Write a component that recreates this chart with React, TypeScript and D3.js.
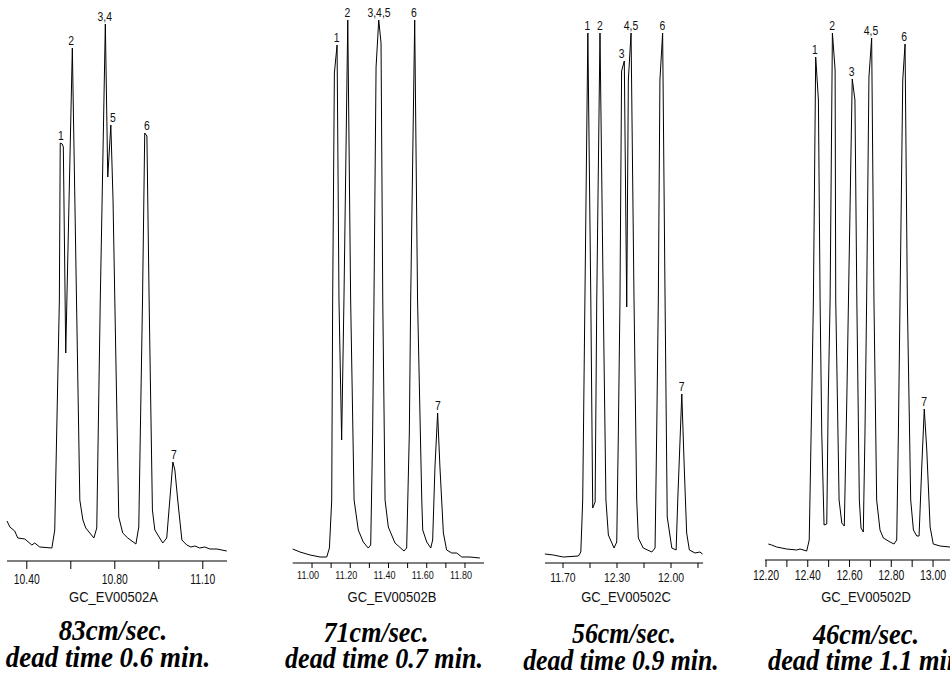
import React from "react";
import * as d3 from "d3";

// ---------- DATA ----------
const sampleIds = ["GC_EV00502A", "GC_EV00502B", "GC_EV00502C", "GC_EV00502D"];
const linearVelocities = ["83cm/sec.", "71cm/sec.", "56cm/sec.", "46cm/sec."];
const deadTimes = ["dead time 0.6 min.", "dead time 0.7 min.", "dead time 0.9 min.", "dead time 1.1 min."];

// Chromatogram A (retention time, min / detector signal)
const timesA = [10.310, 10.323, 10.345, 10.359, 10.391, 10.423, 10.436, 10.459, 10.514, 10.527, 10.548, 10.552, 10.561, 10.566, 10.577, 10.607, 10.641, 10.655, 10.668, 10.705, 10.718, 10.734, 10.757, 10.768, 10.782, 10.792, 10.800, 10.818, 10.836, 10.859, 10.896, 10.909, 10.926, 10.936, 10.946, 10.956, 10.971, 10.982, 11.018, 11.036, 11.050, 11.064, 11.073, 11.086, 11.105, 11.127, 11.146, 11.164, 11.186, 11.209, 11.232, 11.264, 11.309];
const signalA = [41, 35, 31, 24, 23, 17, 19, 15, 14, 32, 262, 419, 418, 415, 209, 514, 62, 42, 34, 24, 34, 262, 538, 385, 437, 362, 262, 45, 29, 24, 18, 35, 262, 429, 426, 262, 52, 32, 19, 24, 62, 100, 92, 62, 22, 17, 15, 16, 14, 15, 13, 13, 11];

// Chromatogram B
const timesB = [10.899, 10.937, 10.990, 11.042, 11.077, 11.091, 11.103, 11.108, 11.117, 11.131, 11.141, 11.155, 11.167, 11.187, 11.202, 11.220, 11.242, 11.268, 11.294, 11.307, 11.317, 11.324, 11.335, 11.349, 11.361, 11.370, 11.382, 11.399, 11.434, 11.481, 11.495, 11.509, 11.516, 11.537, 11.552, 11.574, 11.579, 11.600, 11.621, 11.631, 11.643, 11.657, 11.669, 11.687, 11.704, 11.731, 11.757, 11.783, 11.826, 11.878];
const signalB = [14, 11, 8, 6, 6, 15, 63, 263, 490, 518, 263, 123, 263, 543, 263, 63, 33, 21, 15, 18, 130, 263, 496, 543, 520, 263, 63, 36, 20, 12, 15, 130, 263, 543, 263, 63, 33, 21, 15, 23, 96, 150, 96, 30, 13, 10, 10, 6, 6, 5];

// Chromatogram C
const timesC = [11.633, 11.664, 11.701, 11.757, 11.766, 11.773, 11.792, 11.803, 11.810, 11.819, 11.825, 11.837, 11.849, 11.859, 11.868, 11.889, 11.899, 11.905, 11.911, 11.917, 11.927, 11.936, 11.942, 11.952, 11.963, 11.973, 11.979, 11.997, 12.029, 12.041, 12.047, 12.053, 12.059, 12.069, 12.078, 12.086, 12.103, 12.119, 12.125, 12.140, 12.149, 12.158, 12.168, 12.189, 12.207, 12.217];
const signalC = [9, 8, 6, 7, 11, 63, 530, 263, 55, 61, 263, 530, 263, 63, 28, 15, 21, 130, 263, 492, 502, 256, 483, 530, 263, 63, 25, 15, 11, 15, 130, 263, 483, 530, 263, 46, 15, 13, 63, 169, 96, 30, 13, 10, 11, 9];

// Chromatogram D
const timesD = [12.211, 12.227, 12.251, 12.299, 12.347, 12.363, 12.395, 12.407, 12.419, 12.427, 12.438, 12.451, 12.459, 12.467, 12.478, 12.491, 12.498, 12.507, 12.518, 12.531, 12.534, 12.550, 12.563, 12.575, 12.587, 12.595, 12.613, 12.626, 12.635, 12.647, 12.655, 12.666, 12.674, 12.682, 12.693, 12.706, 12.717, 12.730, 12.746, 12.762, 12.794, 12.813, 12.826, 12.834, 12.842, 12.855, 12.866, 12.877, 12.893, 12.906, 12.922, 12.933, 12.946, 12.958, 12.970, 12.986, 13.001, 13.034, 13.081, 13.130];
const signalD = [15, 14, 12, 10, 9, 10, 8, 19, 159, 259, 502, 459, 259, 126, 34, 35, 159, 259, 526, 489, 259, 59, 36, 33, 159, 259, 480, 459, 259, 59, 31, 27, 126, 259, 482, 521, 259, 59, 29, 21, 17, 15, 19, 126, 259, 479, 515, 259, 59, 29, 23, 23, 92, 150, 109, 32, 15, 13, 12, 11];

// Axis ticks (values) and their printed labels
const ticksA = [10.4, 10.6, 10.8, 11.0, 11.2];
const tickLabelsA = ["10.40", "", "10.80", "", "11.10"];
const ticksB = [11.0, 11.1, 11.2, 11.3, 11.4, 11.5, 11.6, 11.7, 11.8];
const tickLabelsB = ["11.00", "", "11.20", "", "11.40", "", "11.60", "", "11.80"];
const ticksC = [11.7, 11.8, 11.9, 12.0, 12.1, 12.2];
const tickLabelsC = ["11.70", "", "12.30", "", "12.00", ""];
const ticksD = [12.2, 12.3, 12.4, 12.5, 12.6, 12.7, 12.8, 12.9, 13.0, 13.1];
const tickLabelsD = ["12.20", "", "12.40", "", "12.60", "", "12.80", "", "13.00", ""];

// Peak annotations
const peakNamesA = ["1", "2", "3,4", "5", "6", "7"];
const peakTimesA = [10.5545, 10.6014, 10.7545, 10.7909, 10.9455, 11.0682];
const peakNamesB = ["1", "2", "3,4,5", "6", "7"];
const peakTimesB = [11.1292, 11.1846, 11.3503, 11.5333, 11.6578];
const peakNamesC = ["1", "2", "3", "4,5", "6", "7"];
const peakTimesC = [11.790, 11.837, 11.9174, 11.9519, 12.0678, 12.1396];
const peakNamesD = ["1", "2", "3", "4,5", "6", "7"];
const peakTimesD = [12.4347, 12.5162, 12.6105, 12.703, 12.8611, 12.9569];

// ---------- LAYOUT ----------
const panels = [
  { times: timesA, signal: signalA, ticks: ticksA, tickLabels: tickLabelsA, peakNames: peakNamesA, peakTimes: peakTimesA,
    domain: [10.31, 11.31], range: [7, 227], axisX: [7, 227], base: 562, axisY: 561, tickLen: 8, tickFont: 14, tickSx: 0.74, tickDx: 0, tickBase: 584,
    idX: 113.5, speedX: 113, speedY: 640, deadX: 108, deadY: 667, bigFont: 29, bigSx: 0.93 },
  { times: timesB, signal: signalB, ticks: ticksB, tickLabels: tickLabelsB, peakNames: peakNamesB, peakTimes: peakTimesB,
    domain: [10.9, 11.9], range: [292.9, 484.1], axisX: [292.7, 484], base: 563, axisY: 563, tickLen: 5, tickFont: 11, tickSx: 0.82, tickDx: -4, tickBase: 579,
    idX: 392, speedX: 376, speedY: 642, deadX: 384, deadY: 668, bigFont: 29, bigSx: 0.9 },
  { times: timesC, signal: signalC, ticks: ticksC, tickLabels: tickLabelsC, peakNames: peakNamesC, peakTimes: peakTimesC,
    domain: [11.6333, 12.2185], range: [545, 703], axisX: [545, 703], base: 563, axisY: 563, tickLen: 5, tickFont: 12, tickSx: 0.87, tickDx: 0, tickBase: 582,
    idX: 626, speedX: 624, speedY: 643, deadX: 621, deadY: 670, bigFont: 29, bigSx: 0.89 },
  { times: timesD, signal: signalD, ticks: ticksD, tickLabels: tickLabelsD, peakNames: peakNamesD, peakTimes: peakTimesD,
    domain: [12.1952, 13.2], range: [765, 974.8], axisX: [765, 960], base: 559, axisY: 560, tickLen: 7, tickFont: 14, tickSx: 0.75, tickDx: 0, tickBase: 580,
    idX: 866, speedX: 866, speedY: 644, deadX: 868, deadY: 670, bigFont: 29, bigSx: 0.91 },
];

const SANS = "'Liberation Sans', Arial, Helvetica, sans-serif";
const SERIF = "'Liberation Serif', 'Times New Roman', serif";

function Panel({ p, i }: { p: any; i: number }) {
  const x = d3.scaleLinear().domain(p.domain).range(p.range);
  const y = d3.scaleLinear().domain([0, 540]).range([p.base, p.base - 540]);
  const pts: [number, number][] = p.times.map((t: number, k: number) => [t, p.signal[k]]);
  const line = d3.line<[number, number]>().x((d) => x(d[0])).y((d) => y(d[1])).curve(d3.curveLinear);

  const peakLabelY = (t: number) => {
    const near = pts.filter((d) => Math.abs(d[0] - t) <= 0.012);
    const m = d3.max(near, (d) => d[1]) ?? 0;
    return y(m) - 3;
  };

  return (
    <g>
      <path d={line(pts) ?? ""} fill="none" stroke="#000" strokeWidth={1} strokeLinejoin="round" />
      {p.peakNames.map((n: string, k: number) => (
        <text key={"pk" + k} transform={`translate(${x(p.peakTimes[k])},${peakLabelY(p.peakTimes[k])}) scale(0.8,1)`}
          textAnchor="middle" fontFamily={SANS} fontSize={13} fill="#111">{n}</text>
      ))}
      <line x1={p.axisX[0]} x2={p.axisX[1]} y1={p.axisY} y2={p.axisY} stroke="#000" strokeWidth={1.2} />
      {p.ticks.map((t: number, k: number) => (
        <line key={"tk" + k} x1={x(t)} x2={x(t)} y1={p.axisY} y2={p.axisY + p.tickLen} stroke="#000" strokeWidth={1} />
      ))}
      {p.tickLabels.map((l: string, k: number) => l ? (
        <text key={"tl" + k} transform={`translate(${x(p.ticks[k]) + p.tickDx},${p.tickBase}) scale(${p.tickSx},1)`}
          textAnchor="middle" fontFamily={SANS} fontSize={p.tickFont} fill="#111">{l}</text>
      ) : null)}
      <text transform={`translate(${p.idX},602) scale(0.93,1)`} textAnchor="middle" fontFamily={SANS} fontSize={14} fill="#111">{sampleIds[i]}</text>
      <text transform={`translate(${p.speedX},${p.speedY}) scale(${p.bigSx},1)`} textAnchor="middle" fontFamily={SERIF} fontStyle="italic" fontWeight="bold" fontSize={p.bigFont} fill="#000">{linearVelocities[i]}</text>
      <text transform={`translate(${p.deadX},${p.deadY}) scale(${p.bigSx},1)`} textAnchor="middle" fontFamily={SERIF} fontStyle="italic" fontWeight="bold" fontSize={p.bigFont} fill="#000">{deadTimes[i]}</text>
    </g>
  );
}

export default function App() {
  return (
    <svg width={950} height={676} viewBox="0 0 950 676" style={{ position: "absolute", left: 0, top: 0, background: "#fff" }}>
      <rect x={0} y={0} width={950} height={676} fill="#fff" />
      {panels.map((p, i) => <Panel key={i} p={p} i={i} />)}
    </svg>
  );
}
